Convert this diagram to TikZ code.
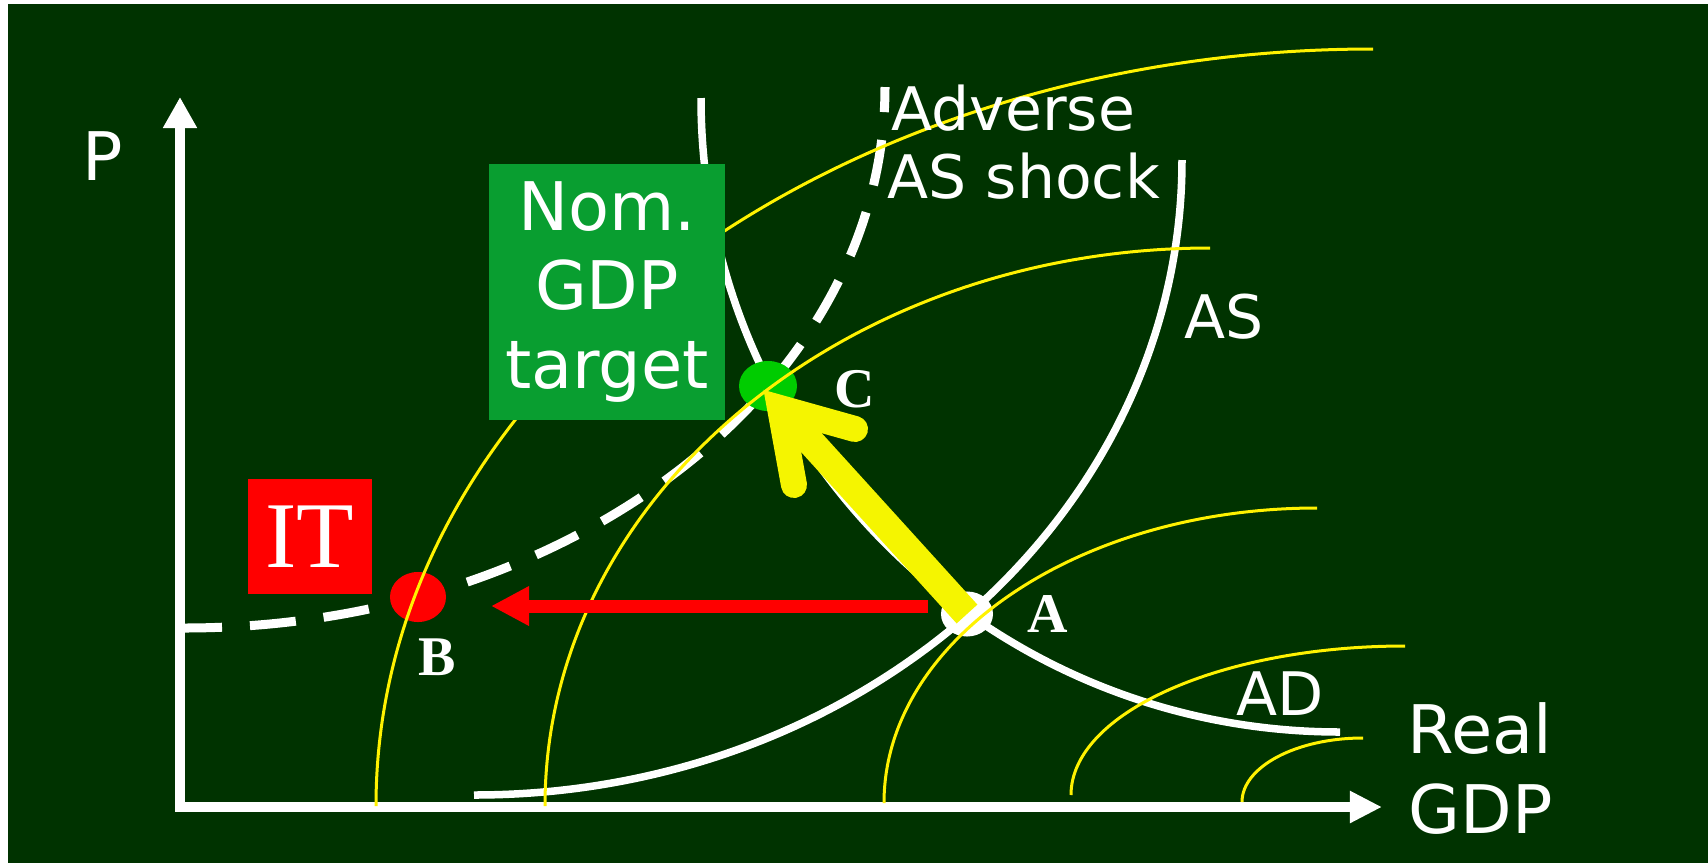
\documentclass[tikz,border=0pt]{standalone}
\usepackage{fontspec}
\usepackage{tikz}
\usetikzlibrary{arrows.meta,positioning,shapes.geometric}
\newfontfamily\lblfont{DejaVu Sans}
\newfontfamily\ptfont{Liberation Serif}
\definecolor{board}{RGB}{0,51,0}
\definecolor{nomgreen}{RGB}{9,158,48}
\definecolor{cgreen}{RGB}{0,204,0}
\definecolor{arrowyellow}{RGB}{245,245,0}

\begin{document}
\begin{tikzpicture}[x=0.01cm, y=-0.01cm,
  axisline/.style={white, line width=0.1cm},
  schedule/.style={white, line width=0.075cm},
  shifted/.style={white, line width=0.09cm, dash pattern=on 0.46cm off 0.28cm, dash phase=0.08cm},
  isoline/.style={yellow, line width=0.03cm},
  ptdot/.style={ellipse, inner sep=0pt},
  lbl/.style={text=white, inner sep=0pt, font=\lblfont\fontsize{17.07}{19.35}\selectfont},
  biglbl/.style={text=white, inner sep=0pt, font=\lblfont\fontsize{19.06}{22.5}\selectfont},
  ptlbl/.style={text=white, inner sep=0pt, font=\ptfont\bfseries\fontsize{15.93}{18}\selectfont},
  nombox/.style={fill=nomgreen, minimum width=2.36cm, minimum height=2.55cm, align=center, inner sep=0pt},
  itbox/.style={fill=red, text=white, minimum width=1.24cm, minimum height=1.15cm, inner sep=0pt, font=\ptfont\fontsize{26.75}{30}\selectfont},
  itarrow/.style={red, line width=0.13cm, -{Triangle[length=0.38cm, width=0.37cm]}},
  ngarrow/.style={arrowyellow, line width=0.28cm}
]
% background
\fill[white] (0,0) rectangle (1708,863);
\fill[board] (8,4) rectangle (1708,863);

% axes
\coordinate (ytip) at (180,97);
\coordinate (orig) at (180,807);
\coordinate (xtip) at (1382,807);
\draw[axisline, {Triangle[length=0.31cm, width=0.32cm]}-{Triangle[length=0.32cm, width=0.3cm]}] (ytip) -- (orig) -- (xtip);

% AS and AD
\draw[schedule] (474,795) .. controls (865,795) and (1182,511) .. (1182,160);
\draw[schedule] (701,98) .. controls (701,448) and (987,732) .. (1340,732);
% shifted AS
\draw[shifted] (184,628) .. controls (571,628) and (885,386) .. (885,87);

% equilibrium points
\node[ptdot, fill=white, minimum width=0.52cm, minimum height=0.45cm] (ptA) at (967,614) {};
\node[ptdot, fill=red, minimum width=0.56cm, minimum height=0.50cm] (ptB) at (418,597) {};
\node[ptdot, fill=cgreen, minimum width=0.58cm, minimum height=0.50cm] (ptC) at (768,386) {};

% nominal GDP curves
\draw[isoline] (376,806) .. controls (376,388) and (822,49) .. (1373,49);
\draw[isoline] (545,806) .. controls (545,498) and (843,248) .. (1210,248);
\draw[isoline] (884,803) .. controls (884,640) and (1078,508) .. (1317,508);
\draw[isoline] (1071,795) .. controls (1071,713) and (1221,646) .. (1405,646);
\draw[isoline] (1242,802) .. controls (1242,767) and (1296,738) .. (1363,738);

% policy arrows
\coordinate (rstart) at (928,606);
\coordinate (rend) at (491,606);
\draw[itarrow] (rstart) -- (rend);
\coordinate (vtx) at (780,408);
\coordinate (barbA) at (855,429);
\coordinate (barbB) at (794,485);
\draw[ngarrow, line cap=butt] (ptA.center) -- (vtx);
\draw[ngarrow, line width=0.26cm, line cap=round, line join=miter] (barbA) -- (vtx) -- (barbB);

% boxes
\node[nombox, biglbl, text=white] (nom) at (607,292) {Nom.\\GDP\\target};
\node[itbox] (it) at (310,536.5) {IT};

% labels
\node[biglbl, anchor=base west] (plbl) at (82,180) {P};
\node[biglbl, anchor=base west] (xlbl1) at (1407,753) {Real};
\node[biglbl, anchor=base west] (xlbl2) at (1408,833) {GDP};
\node[lbl, anchor=base west] (shock1) at (891,130) {Adverse};
\node[lbl, anchor=base west] (shock2) at (887,198) {AS shock};
\node[lbl, anchor=base west] (aslbl) at (1184,338) {AS};
\node[lbl, anchor=base west] (adlbl) at (1236,715) {AD};
\node[ptlbl, anchor=base west] (albl) at (1027,632) {A};
\node[ptlbl, anchor=base west] (blbl) at (418,675) {B};
\node[ptlbl, anchor=base west] (clbl) at (834,407) {C};
\end{tikzpicture}
\end{document}
